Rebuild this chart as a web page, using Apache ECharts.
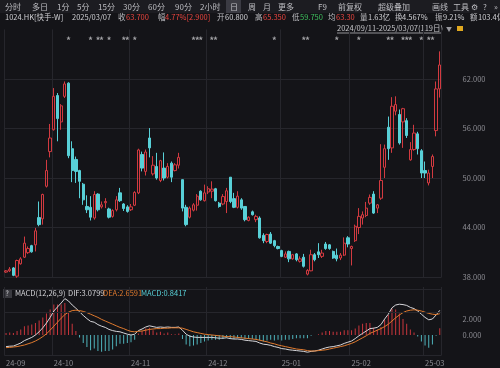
<!DOCTYPE html>
<html><head><meta charset="utf-8">
<script src="https://cdn.jsdelivr.net/npm/echarts@6/dist/echarts.min.js"></script>
<style>html,body{margin:0;padding:0;background:#141418;}#c{width:500px;height:368px;}</style>
</head><body><div id="c"></div>
<script>
const dates = [
'2024-09-11','2024-09-12','2024-09-13','2024-09-16','2024-09-17','2024-09-19','2024-09-20','2024-09-23','2024-09-24','2024-09-25','2024-09-26','2024-09-27','2024-09-30',
'2024-10-02','2024-10-03','2024-10-04','2024-10-07','2024-10-08','2024-10-09','2024-10-10','2024-10-14','2024-10-15','2024-10-16','2024-10-17','2024-10-18','2024-10-21','2024-10-22','2024-10-23','2024-10-24','2024-10-25','2024-10-28','2024-10-29','2024-10-30','2024-10-31',
'2024-11-01','2024-11-04','2024-11-05','2024-11-06','2024-11-07','2024-11-08','2024-11-11','2024-11-12','2024-11-13','2024-11-14','2024-11-15','2024-11-18','2024-11-19','2024-11-20','2024-11-21','2024-11-22','2024-11-25','2024-11-26','2024-11-27','2024-11-28','2024-11-29',
'2024-12-02','2024-12-03','2024-12-04','2024-12-05','2024-12-06','2024-12-09','2024-12-10','2024-12-11','2024-12-12','2024-12-13','2024-12-16','2024-12-17','2024-12-18','2024-12-19','2024-12-20','2024-12-23','2024-12-24','2024-12-27','2024-12-30','2024-12-31',
'2025-01-02','2025-01-03','2025-01-06','2025-01-07','2025-01-08','2025-01-09','2025-01-10','2025-01-13','2025-01-14','2025-01-15','2025-01-16','2025-01-17','2025-01-20','2025-01-21','2025-01-22','2025-01-23','2025-01-24','2025-01-27','2025-01-28',
'2025-02-03','2025-02-04','2025-02-05','2025-02-06','2025-02-07','2025-02-10','2025-02-11','2025-02-12','2025-02-13','2025-02-14','2025-02-17','2025-02-18','2025-02-19','2025-02-20','2025-02-21','2025-02-24','2025-02-25','2025-02-26','2025-02-27','2025-02-28',
'2025-03-03','2025-03-04','2025-03-05','2025-03-06','2025-03-07'];

const opens = [38.6,38.75,39.1,38.1,39.6,40.4,40.95,41.8,41.9,45.2,
45.05,49.0,53.2,55.85,60.0,56.8,59.9,61.5,53.55,52.25,
50.9,49.25,46.55,46.45,45.15,48.05,46.5,47.0,46.25,45.35,
46.15,48.2,46.85,46.5,46.15,46.7,48.2,52.85,50.8,54.85,
50.5,51.4,49.7,51.2,50.1,51.8,50.9,51.55,49.8,46.45,
45.25,46.1,46.7,48.4,47.25,48.3,48.4,48.7,46.95,46.85,
47.15,50.1,47.5,46.45,47.35,46.55,44.85,45.9,44.95,45.15,
43.05,42.3,43.2,42.4,41.7,41.2,40.4,41.1,40.2,40.8,
39.9,40.4,38.35,38.75,40.7,41.05,40.5,42.0,41.9,41.1,
40.65,40.3,40.65,42.75,41.45,42.4,44.0,45.15,45.45,46.95,
48.05,46.35,47.55,51.3,56.15,53.65,58.1,57.7,56.8,56.95,
52.2,53.45,55.35,53.3,50.9,49.4,51.4,55.75,60.8];
const closes = [38.75,38.95,38.2,40.0,40.2,42.1,41.45,41.05,43.6,44.35,
48.0,50.9,54.85,59.9,57.2,58.75,61.4,52.7,50.9,50.8,
49.6,47.35,46.15,45.25,48.0,46.15,46.75,47.15,45.25,46.05,
47.35,47.25,46.3,45.95,46.5,48.25,53.4,51.2,53.15,53.65,
51.55,50.0,52.1,50.0,51.4,50.1,51.6,52.5,46.35,44.35,
46.35,46.75,47.8,47.35,48.2,48.7,48.65,47.25,46.55,47.75,
48.45,47.15,46.45,47.8,46.35,44.95,45.25,45.55,45.35,42.75,
42.4,43.15,42.1,41.8,41.45,40.5,40.8,40.2,40.7,40.1,
40.2,39.3,38.8,40.7,40.1,40.7,40.9,41.45,41.45,40.3,
40.2,40.65,42.1,42.0,41.7,44.15,45.35,45.55,46.35,47.65,
45.75,46.75,49.7,53.55,53.55,58.7,58.9,54.25,58.4,55.15,
53.45,55.45,53.55,50.6,50.6,50.6,52.6,60.8,63.7];
const lows = [38.5,38.6,38.1,37.9,39.5,40.3,40.8,40.95,41.1,44.15,
44.35,48.85,52.5,55.75,54.45,55.85,59.7,52.4,49.5,49.4,
47.55,46.75,45.75,44.85,44.95,45.95,46.3,46.35,45.1,45.2,
45.95,47.1,46.0,45.8,46.0,46.6,48.05,50.8,50.3,52.5,
50.3,49.8,49.5,49.7,49.95,49.5,50.8,51.15,45.95,44.15,
45.1,45.95,46.05,47.25,47.15,48.05,47.55,47.15,46.4,46.7,
45.75,46.95,46.35,46.3,46.15,44.75,44.75,45.45,44.65,42.65,
42.1,42.1,42.0,41.6,41.35,40.4,40.3,39.8,40.1,39.9,
39.75,39.15,38.2,38.7,39.9,40.3,40.3,41.3,41.3,40.2,
39.9,40.05,40.55,41.6,39.4,42.25,43.2,44.35,45.25,46.75,
45.65,45.75,47.35,50.0,52.2,53.05,57.6,54.05,53.65,54.85,
52.1,53.3,52.85,50.0,50.0,49.1,50.0,55.05,59.75];
const highs = [38.85,39.2,39.2,40.1,40.4,42.9,41.7,41.9,43.95,47.15,
48.1,52.2,56.55,60.9,60.3,58.95,61.7,61.6,54.45,52.6,
51.0,49.4,47.9,47.8,48.4,48.15,47.15,47.55,46.4,46.2,
47.8,48.8,46.95,46.7,46.85,48.4,53.55,53.2,53.45,56.05,
52.65,53.05,52.2,53.1,51.8,52.0,51.8,53.05,49.8,46.75,
46.55,46.95,48.05,48.5,49.2,49.0,49.6,48.8,47.1,48.05,
48.8,50.1,48.2,48.4,47.55,46.6,45.35,46.05,45.55,45.35,
43.3,43.25,43.45,42.5,41.8,41.3,41.1,41.2,40.8,40.9,
40.5,40.8,38.95,41.3,40.9,42.1,41.3,42.25,42.0,41.2,
41.45,40.9,42.8,42.95,41.8,44.35,46.35,45.95,47.1,48.0,
48.4,46.85,54.1,54.05,57.45,59.8,59.9,58.3,58.5,57.25,
54.35,56.45,55.6,53.5,52.0,51.0,52.85,61.7,65.35];

const dif = [-1.45,-1.40,-1.38,-1.20,-1.00,-0.70,-0.50,-0.30,0.00,0.40,
0.90,1.50,2.20,3.00,3.50,4.00,4.55,4.25,3.75,3.35,
2.90,2.45,2.05,1.70,1.60,1.30,1.10,0.95,0.70,0.55,
0.45,0.40,0.25,0.10,0.00,0.10,0.55,0.75,1.00,1.15,
1.05,0.95,1.00,0.95,1.00,0.95,0.95,1.00,0.60,0.10,
-0.15,-0.25,-0.30,-0.30,-0.30,-0.30,-0.30,-0.35,-0.40,-0.40,
-0.35,-0.45,-0.50,-0.50,-0.55,-0.65,-0.70,-0.75,-0.80,-1.00,
-1.15,-1.20,-1.30,-1.45,-1.55,-1.70,-1.75,-1.85,-1.90,-1.95,
-2.00,-2.05,-2.15,-2.05,-2.00,-1.90,-1.75,-1.60,-1.50,-1.45,
-1.35,-1.25,-1.05,-0.90,-0.75,-0.45,-0.10,0.20,0.50,0.80,
0.85,0.95,1.30,2.00,2.60,3.40,3.75,3.85,3.80,3.70,
3.45,3.30,3.00,2.60,2.20,1.90,2.00,2.50,3.08];
const dea = [-1.58,-1.55,-1.50,-1.45,-1.35,-1.25,-1.10,-0.95,-0.75,-0.50,
-0.20,0.15,0.60,1.10,1.60,2.10,2.55,2.85,3.05,3.10,
3.05,2.95,2.80,2.60,2.40,2.20,1.95,1.75,1.55,1.35,
1.15,0.95,0.80,0.60,0.45,0.40,0.45,0.50,0.60,0.70,
0.75,0.80,0.80,0.85,0.85,0.90,0.90,0.90,0.85,0.70,
0.55,0.40,0.30,0.20,0.10,0.05,0.00,-0.05,-0.10,-0.15,
-0.20,-0.20,-0.25,-0.30,-0.35,-0.40,-0.45,-0.50,-0.55,-0.65,
-0.75,-0.85,-1.00,-1.10,-1.25,-1.35,-1.45,-1.55,-1.65,-1.75,
-1.80,-1.85,-1.95,-2.00,-2.00,-1.95,-1.90,-1.85,-1.75,-1.65,
-1.55,-1.45,-1.35,-1.20,-1.05,-0.85,-0.60,-0.35,-0.10,0.20,
0.40,0.60,0.80,1.05,1.35,1.75,2.15,2.50,2.80,3.00,
3.10,3.15,3.10,3.00,2.85,2.70,2.60,2.55,2.66];
const macdHist = [0.26,0.30,0.24,0.50,0.70,1.10,1.20,1.30,1.50,1.80,
2.20,2.70,3.20,3.80,3.80,3.80,4.00,2.80,1.40,0.50,
-0.30,-1.00,-1.50,-1.90,-1.70,-2.00,-2.10,-2.00,-2.00,-1.80,
-1.40,-1.10,-1.10,-1.00,-0.90,-0.60,0.20,0.50,0.80,0.90,
0.60,0.30,0.40,0.20,0.30,0.10,0.10,0.20,-0.50,-1.20,
-1.40,-1.30,-1.20,-1.00,-0.80,-0.70,-0.60,-0.60,-0.60,-0.50,
-0.30,-0.50,-0.50,-0.40,-0.40,-0.50,-0.50,-0.50,-0.50,-0.70,
-0.80,-0.70,-0.60,-0.70,-0.60,-0.70,-0.60,-0.60,-0.50,-0.40,
-0.40,-0.40,-0.40,-0.10,0.00,0.10,0.30,0.50,0.50,0.40,
0.40,0.40,0.60,0.60,0.60,0.80,1.20,1.40,1.50,1.50,
0.90,0.70,1.00,1.90,2.50,3.30,3.20,2.70,2.00,1.40,
0.70,0.30,-0.20,-0.80,-1.30,-1.60,-1.20,-0.10,0.84];

const starDays = [17,23,25,26,28,32,33,35,51,52,53,56,57,73,81,82,90,96,104,105,108,109,110,113,115,116];
const priceTicks = [62,56,50,44,38];
const macdTicks = [0,2];
const macdGuides = [5.75,2.875,-2.5];

const FONT = '"Noto Sans CJK SC", "Noto Sans", sans-serif';
const UP = '#d23a40', DOWN = '#58d0d7', GRID = '#26262c', AXT = '#8c8c92';

const monthStart = new Set();
dates.forEach((d,i)=>{ if(i===0 || d.slice(0,7)!==dates[i-1].slice(0,7)) monthStart.add(i); });

const chart = echarts.init(document.getElementById('c'), null, {renderer:'canvas'});

function t(text, x, y, fill, size){
  return {type:'text', x:x, y:y, silent:true,
    style:{text:text, fill:fill||'#c4c4c8', font:(size||8)+'px '+FONT, verticalAlign:'middle'}};
}
const tb = [['分时',5],['多日',32],['1分',57],['5分',77],['15分',98],['30分',123],['60分',148],['90分',175],['2小时',200],['日',230],['周',248],['月',263],['更多',278],['F9',318],['前复权',338],['超级叠加',378],['画线',432],['工具',453],['⚙',471],['?',483],['»',494]];
const graphics = [
  {type:'rect', shape:{x:0,y:0,width:500,height:13}, style:{fill:'#1c1c21'}, silent:true},
  {type:'rect', shape:{x:226,y:0,width:15,height:13}, style:{fill:'#3b3b43'}, silent:true}
];
tb.forEach(([s,x])=>graphics.push(t(s,x,6.8,'#bdbdc2',8)));
const info = [['1024.HK[快手-W]',5,'#d0d0d4'],['2025/03/07',72,'#d0d0d4'],['收',118,'#bdbdc2'],['63.700',126,'#e8453f'],['幅',158,'#bdbdc2'],['4.77%[2.900]',165,'#e8453f'],['开',217,'#bdbdc2'],['60.800',225,'#d0d0d4'],
['高',255,'#bdbdc2'],['65.350',263,'#e8453f'],['低',292,'#bdbdc2'],['59.750',300,'#3fbf5f'],['均',328,'#bdbdc2'],['63.30',336,'#e8453f'],['量',360,'#bdbdc2'],['1.63亿',368,'#d0d0d4'],['换',395,'#bdbdc2'],['4.567%',402,'#d0d0d4'],['振',435,'#bdbdc2'],['9.21%',443,'#d0d0d4'],['额',470,'#bdbdc2'],['103.4亿',478,'#d0d0d4']];
info.forEach(([s,x,c])=>graphics.push(t(s,x,17.5,c,7.5)));
graphics.push(t('2024/09/11-2025/03/07(119日)',337,28.5,'#c4c4c8',7.5));
graphics.push({type:'line', shape:{x1:337,y1:33,x2:442,y2:33}, style:{stroke:'#b0b0b5',lineWidth:0.8}, silent:true});
graphics.push(t('▼',446,28.5,'#9a9aa0',6));
graphics.push({type:'rect', shape:{x:457,y:26,width:6,height:5}, style:{fill:'#e0a820'}, silent:true});
graphics.push({type:'rect', shape:{x:3,y:289,width:9,height:9}, style:{fill:'#3a3a40'}, silent:true});
graphics.push(t('?',5.5,293.5,'#d0d0d4',7));
graphics.push(t('MACD(12,26,9)',15,293.5,'#d4d4d8',7.5));
graphics.push(t('DIF:3.0799',68,293.5,'#d4d4d8',7.5));
graphics.push(t('DEA:2.6591',103,293.5,'#e07a2e',7.5));
graphics.push(t('MACD:0.8417',141,293.5,'#58d0d7',7.5));

const L = 4.2, W = 437.4;
const option = {
  backgroundColor:'#141418',
  animation:false,
  textStyle:{fontFamily:FONT},
  grid:[{left:L, width:W, top:29.5, height:247.5},{left:L, width:W, top:287, height:68}],
  xAxis:[
    {type:'category', gridIndex:0, data:dates, boundaryGap:true, axisLine:{show:false}, axisTick:{show:false}, axisLabel:{show:false},
     splitLine:{show:true, interval:(i)=>monthStart.has(i), lineStyle:{color:GRID,width:1}}},
    {type:'category', gridIndex:1, data:dates, boundaryGap:true, axisLine:{show:false}, axisTick:{show:false},
     axisLabel:{show:true, interval:(i)=>monthStart.has(i), formatter:(v)=>v.slice(2,7), color:AXT, fontSize:7.5, align:'left', margin:4},
     splitLine:{show:true, interval:(i)=>monthStart.has(i), lineStyle:{color:GRID,width:1}}}
  ],
  yAxis:[
    {type:'value', gridIndex:0, position:'right', min:38, max:68, interval:6, axisLine:{show:false}, axisTick:{show:false},
     axisLabel:{color:AXT, fontSize:7.5, margin:21, showMaxLabel:false, formatter:(v)=>priceTicks.includes(v)?v.toFixed(3):''},
     splitLine:{showMaxLine:false, lineStyle:{color:GRID,width:1}}},
    {type:'value', gridIndex:1, position:'right', min:-2.5, max:6, interval:0.5, axisLine:{show:false}, axisTick:{show:false},
     axisLabel:{color:AXT, fontSize:7.5, margin:21, formatter:(v)=>macdTicks.includes(v)?v.toFixed(3):''},
     splitLine:{show:false}}
  ],
  series:[
    {type:'candlestick', xAxisIndex:0, yAxisIndex:0, barWidth:2.8, clip:false,
     data:dates.map((d,i)=>[opens[i],closes[i],lows[i],highs[i]]),
     itemStyle:{color:'rgba(0,0,0,0)', color0:DOWN, borderColor:UP, borderColor0:DOWN, borderWidth:1}},
    {type:'scatter', xAxisIndex:0, yAxisIndex:0, symbolSize:1, itemStyle:{color:'rgba(0,0,0,0)'},
     data:starDays.map(i=>[i, 66.6]),
     label:{show:true, position:'inside', formatter:'*', color:'#c8c8cc', fontSize:9, fontWeight:'bold'}},
    {type:'bar', xAxisIndex:1, yAxisIndex:1, barWidth:1,
     data:macdHist.map(v=>({value:v, itemStyle:{color: v>=0 ? '#c8363c' : '#4fb3bb'}})),
     markLine:{silent:true, symbol:'none', label:{show:false}, lineStyle:{color:GRID, width:1, type:'solid'},
       data:macdGuides.map(v=>({yAxis:v}))}},
    {type:'line', xAxisIndex:1, yAxisIndex:1, data:dif, symbol:'none', lineStyle:{color:'#d6d6da', width:1}},
    {type:'line', xAxisIndex:1, yAxisIndex:1, data:dea, symbol:'none', lineStyle:{color:'#e07a2e', width:1}}
  ],
  graphic:graphics
};
chart.setOption(option);
</script></body></html>
